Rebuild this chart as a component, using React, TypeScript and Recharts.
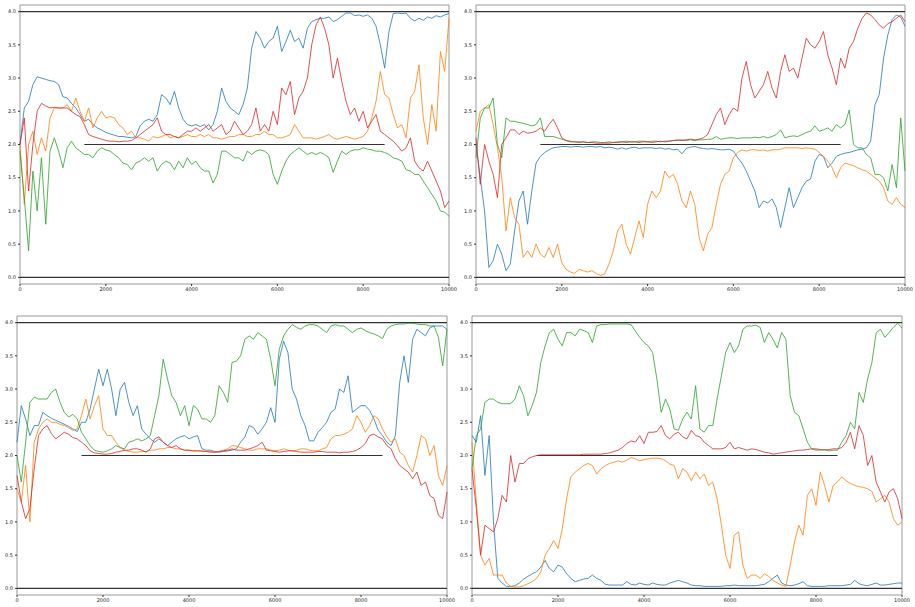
import { LineChart, Line, XAxis, YAxis, ReferenceLine, ReferenceArea } from 'recharts';

// sample positions (every 100 steps)
const steps = [
  0, 100, 200, 300, 400, 500, 600, 700, 800, 900,
  1000, 1100, 1200, 1300, 1400, 1500, 1600, 1700, 1800, 1900,
  2000, 2100, 2200, 2300, 2400, 2500, 2600, 2700, 2800, 2900,
  3000, 3100, 3200, 3300, 3400, 3500, 3600, 3700, 3800, 3900,
  4000, 4100, 4200, 4300, 4400, 4500, 4600, 4700, 4800, 4900,
  5000, 5100, 5200, 5300, 5400, 5500, 5600, 5700, 5800, 5900,
  6000, 6100, 6200, 6300, 6400, 6500, 6600, 6700, 6800, 6900,
  7000, 7100, 7200, 7300, 7400, 7500, 7600, 7700, 7800, 7900,
  8000, 8100, 8200, 8300, 8400, 8500, 8600, 8700, 8800, 8900,
  9000, 9100, 9200, 9300, 9400, 9500, 9600, 9700, 9800, 9900,
  10000,
];

const xTicks = [0, 2000, 4000, 6000, 8000, 10000];
const yTicks = [0, 0.5, 1, 1.5, 2, 2.5, 3, 3.5, 4];

// ---- top left ----
const tlBlue = [
  2.0, 2.55, 2.65, 2.9, 3.02, 3.0, 2.98, 2.96, 2.95, 2.9,
  2.72, 2.7, 2.62, 2.55, 2.45, 2.35, 2.38, 2.3, 2.25, 2.22,
  2.18, 2.16, 2.14, 2.12, 2.12, 2.11, 2.1, 2.12, 2.28, 2.35,
  2.38, 2.35, 2.45, 2.75, 2.7, 2.6, 2.8, 2.55, 2.38, 2.3,
  2.28, 2.3, 2.27, 2.3, 2.22, 2.3, 2.5, 2.85, 2.65, 2.55,
  2.5, 2.45, 2.6, 2.85, 3.45, 3.7, 3.6, 3.45, 3.55, 3.6,
  3.78, 3.4, 3.55, 3.72, 3.55, 3.6, 3.45, 3.75, 3.85, 3.88,
  3.9, 3.9, 3.92, 3.85, 3.88, 3.93, 3.98, 3.98, 3.94, 3.95,
  3.93, 3.95, 3.9, 3.78, 3.5, 3.15, 3.7, 3.97, 3.98, 3.97,
  3.98, 3.9, 3.86, 3.9, 3.87, 3.92, 3.9, 3.94, 3.92, 3.95,
  3.97,
];
const tlOrange = [
  2.0, 1.1, 2.0, 2.2, 1.85, 2.1, 1.9, 2.4, 2.55, 2.55,
  2.55, 2.6, 2.5, 2.7, 2.5, 2.35, 2.55, 2.25, 2.4, 2.5,
  2.4, 2.42, 2.4, 2.3, 2.25, 2.15, 2.2, 2.1, 2.1, 2.08,
  2.05, 2.12, 2.1, 2.12, 2.15, 2.1, 2.12, 2.1, 2.12, 2.15,
  2.12, 2.12, 2.15, 2.12, 2.15, 2.1, 2.1, 2.08, 2.1, 2.12,
  2.12, 2.15, 2.15, 2.12, 2.12, 2.15, 2.15, 2.2, 2.15, 2.15,
  2.1, 2.1, 2.12, 2.15, 2.3, 2.2, 2.1, 2.1, 2.1, 2.08,
  2.1, 2.12, 2.15, 2.1, 2.08, 2.1, 2.12, 2.1, 2.08, 2.1,
  2.12, 2.2, 2.4, 2.65, 3.1, 2.75, 2.7, 2.45, 2.25, 2.3,
  2.1, 2.7, 2.8, 3.2, 2.4, 2.0, 2.6, 2.2, 3.4, 3.1,
  3.9,
];
const tlGreen = [
  1.9, 1.2, 0.4, 1.6, 1.0, 1.8, 0.8, 1.9, 2.1, 1.9,
  1.65, 1.95, 2.05, 1.95, 1.9, 1.85, 1.85, 1.8, 1.9, 1.95,
  1.92, 1.9, 1.85, 1.8, 1.72, 1.7, 1.62, 1.72, 1.75, 1.8,
  1.75, 1.8, 1.6, 1.7, 1.75, 1.72, 1.62, 1.75, 1.65, 1.8,
  1.7, 1.75, 1.65, 1.6, 1.6, 1.42, 1.55, 1.9, 1.9, 1.85,
  1.8, 1.8, 1.75, 1.9, 1.85, 1.9, 1.92, 1.9, 1.85, 1.55,
  1.4, 1.6, 1.75, 1.85, 1.9, 1.95, 1.9, 1.85, 1.88, 1.85,
  1.88, 1.85, 1.8, 1.58, 1.75, 1.9, 1.85, 1.9, 1.92, 1.92,
  1.95, 1.93, 1.92, 1.9, 1.9, 1.88, 1.85, 1.8, 1.78, 1.75,
  1.62, 1.6, 1.55, 1.55, 1.45, 1.35, 1.25, 1.15, 1.0, 0.98,
  0.92,
];
const tlRed = [
  2.0, 2.4, 1.3, 2.0, 2.5, 2.62, 2.58, 2.55, 2.56, 2.55,
  2.55, 2.55, 2.5, 2.45, 2.42, 2.3, 2.15, 2.12, 2.1, 2.08,
  2.06, 2.05, 2.05, 2.04, 2.05, 2.05, 2.06, 2.1, 2.15, 2.2,
  2.25, 2.3, 2.4, 2.2, 2.15, 2.15, 2.12, 2.1, 2.15, 2.2,
  2.2, 2.25, 2.2, 2.25, 2.3, 2.2, 2.25, 2.3, 2.15, 2.2,
  2.35, 2.25, 2.15, 2.2, 2.3, 2.55, 2.2, 2.3, 2.2, 2.5,
  2.3, 2.85, 2.75, 2.95, 2.45, 2.7, 2.8, 3.0, 3.5, 3.8,
  3.92, 3.75, 3.5, 3.0, 3.3, 2.95, 2.65, 2.45, 2.55, 2.35,
  2.5, 2.25, 2.35, 2.45, 2.2, 2.15, 2.1, 2.05, 1.98, 1.9,
  1.95, 2.1, 1.75, 1.65, 1.6, 1.75, 1.6, 1.45, 1.3, 1.05,
  1.15,
];

// ---- top right ----
const trBlue = [
  2.0, 1.5, 1.0, 0.15, 0.25, 0.5, 0.35, 0.1, 0.2, 0.7,
  1.15, 1.3, 0.8, 1.3, 1.72, 1.82, 1.88, 1.92, 1.95, 1.96,
  1.97, 1.97, 1.96, 1.97, 1.97, 1.96, 1.97, 1.97, 1.96, 1.97,
  1.95, 1.96, 1.95, 1.93, 1.95, 1.93, 1.95, 1.96, 1.94, 1.95,
  1.95, 1.95, 1.94, 1.95, 1.93, 1.94, 1.92, 1.93, 1.86, 1.94,
  1.96, 1.97, 1.95, 1.94, 1.93, 1.94, 1.93, 1.92, 1.92, 1.93,
  1.9, 1.8, 1.72, 1.6, 1.45, 1.3, 1.05, 1.15, 1.12, 1.18,
  1.05, 0.75, 1.05, 1.35, 1.05, 1.2, 1.35, 1.45, 1.48, 1.75,
  1.85, 1.82, 1.65, 1.72, 1.82, 1.85, 1.87, 1.88, 1.9, 1.92,
  1.93, 1.95, 2.05, 2.6, 2.75, 3.3, 3.65, 3.88, 3.95, 3.92,
  3.78,
];
const trOrange = [
  2.2, 2.5, 2.55, 2.6, 2.3, 1.95, 1.5, 0.7, 1.2, 0.9,
  0.8, 0.3, 0.4, 0.3, 0.5, 0.35, 0.3, 0.45, 0.3, 0.5,
  0.22, 0.12, 0.08, 0.06, 0.12, 0.1, 0.08, 0.1, 0.06, 0.03,
  0.05, 0.2, 0.4, 0.7, 0.8, 0.5, 0.35, 0.6, 0.85, 0.6,
  1.1, 1.3, 1.2, 1.3, 1.6, 1.5, 1.55, 1.4, 1.15, 1.05,
  1.3, 1.1, 0.6, 0.4, 0.65, 0.75, 1.1, 1.4, 1.55, 1.6,
  1.8, 1.88, 1.92, 1.9, 1.92, 1.92, 1.91, 1.92, 1.9, 1.92,
  1.92, 1.93, 1.95, 1.95, 1.95, 1.95, 1.94, 1.95, 1.94, 1.93,
  1.88, 1.82, 1.75, 1.65, 1.5, 1.65, 1.72, 1.7, 1.68, 1.65,
  1.62, 1.6, 1.55, 1.5, 1.45, 1.35, 1.15, 1.1, 1.2, 1.1,
  1.05,
];
const trGreen = [
  1.8, 2.4, 2.55, 2.55, 2.7, 2.0, 1.8, 2.4, 2.35, 2.35,
  2.33, 2.32, 2.3, 2.28, 2.3, 2.4, 2.12, 2.12, 2.12, 2.1,
  2.08, 2.06, 2.05, 2.04, 2.04, 2.04, 2.03, 2.04, 2.04, 2.03,
  2.03, 2.04, 2.03, 2.04, 2.04, 2.05, 2.04, 2.04, 2.05, 2.05,
  2.04, 2.05, 2.05, 2.04, 2.05, 2.05, 2.06, 2.06, 2.07, 2.06,
  2.07, 2.06, 2.07, 2.07, 2.08, 2.08, 2.12, 2.08, 2.09, 2.1,
  2.1, 2.09, 2.1, 2.1, 2.1, 2.11, 2.1, 2.12, 2.1, 2.12,
  2.15, 2.22, 2.1, 2.12, 2.13, 2.12, 2.15, 2.18, 2.2, 2.28,
  2.2, 2.22, 2.25, 2.2, 2.3, 2.25, 2.3, 2.52, 2.0, 1.95,
  1.95, 1.85, 1.8, 1.55, 1.55, 1.5, 1.3, 1.7, 1.35, 2.4,
  1.6,
];
const trRed = [
  2.1, 1.4, 2.0, 1.75, 1.55, 1.2, 2.0, 2.1, 2.22, 2.22,
  2.15, 2.2, 2.17, 2.18, 2.2, 2.25, 2.2, 2.3, 2.38, 2.25,
  2.1, 2.06, 2.04, 2.04, 2.03, 2.04, 2.03, 2.03, 2.02, 2.02,
  2.02, 2.02, 2.03, 2.03, 2.04, 2.03, 2.04, 2.04, 2.03, 2.04,
  2.04, 2.03, 2.04, 2.05, 2.04, 2.05, 2.06, 2.07, 2.06, 2.07,
  2.08, 2.07, 2.08, 2.1, 2.15, 2.3, 2.45, 2.55, 2.3, 2.45,
  2.55, 2.5, 3.0, 3.25, 2.9, 2.7, 2.8, 2.9, 3.1, 2.85,
  2.7, 3.1, 3.35, 3.1, 3.15, 3.0, 3.3, 3.6, 3.5, 3.45,
  3.55, 3.7, 3.35, 3.15, 2.9, 3.3, 3.15, 3.45, 3.55, 3.75,
  3.9, 3.98, 3.95, 3.88, 3.8, 3.75, 3.82, 3.85, 3.9, 3.95,
  3.85,
];

// ---- bottom left ----
const blBlue = [
  2.2, 2.75, 2.55, 2.3, 2.45, 2.45, 2.65, 2.6, 2.56, 2.53,
  2.5, 2.47, 2.44, 2.4, 2.36, 2.5, 2.5, 2.7, 3.0, 3.3,
  3.05, 3.3, 3.0, 2.6, 3.0, 3.1, 2.8, 2.6, 2.75, 2.4,
  2.32, 2.25, 2.2, 2.25, 2.2, 2.15, 2.2, 2.25, 2.28, 2.3,
  2.25, 2.28, 2.3, 2.1, 2.08, 2.08, 2.06, 2.05, 2.06, 2.07,
  2.08, 2.1, 2.2, 2.28, 2.45, 2.42, 2.32, 2.4, 2.5, 2.72,
  2.5, 3.45, 3.72, 3.55, 3.0, 2.85, 2.6, 2.45, 2.22, 2.22,
  2.35, 2.42, 2.5, 2.65, 2.7, 3.0, 2.95, 3.2, 2.65, 2.7,
  2.75, 2.75, 2.68, 2.55, 2.38, 2.3, 2.2, 2.15, 2.3, 3.1,
  3.5, 3.1, 3.75, 3.9, 3.85, 3.8, 3.92, 3.95, 3.95, 3.95,
  3.9,
];
const blOrange = [
  1.5, 1.3, 1.85, 1.0, 2.2, 2.4, 2.5, 2.55, 2.5, 2.5,
  2.47, 2.45, 2.42, 2.38, 2.4, 2.6, 2.85, 2.55, 2.75, 2.9,
  2.4, 2.3, 2.3, 2.2, 2.12, 2.08, 2.06, 2.05, 2.05, 2.06,
  2.06, 2.08, 2.08, 2.1, 2.1, 2.12, 2.12, 2.1, 2.1, 2.08,
  2.08, 2.07, 2.07, 2.06, 2.06, 2.06, 2.05, 2.06, 2.08, 2.1,
  2.15, 2.14, 2.12, 2.1, 2.08, 2.08, 2.1, 2.1, 2.1, 2.08,
  2.07, 2.08, 2.1, 2.08, 2.07, 2.08, 2.1, 2.1, 2.08, 2.07,
  2.07, 2.1, 2.12, 2.25, 2.3, 2.3, 2.32, 2.35, 2.4, 2.6,
  2.5, 2.35, 2.45, 2.6, 2.55, 2.4, 2.28, 2.2, 2.25, 2.05,
  2.0, 1.85, 1.75, 2.0, 2.3, 2.25, 2.0, 2.15, 1.7, 1.55,
  1.85,
];
const blGreen = [
  2.0, 1.6, 2.2, 2.8, 2.88, 2.85, 2.85, 2.85, 2.95, 3.0,
  2.8, 2.65, 2.58, 2.62, 2.55, 2.35, 2.25, 2.15, 2.08, 2.06,
  2.05, 2.07, 2.1, 2.15, 2.12, 2.1, 2.2, 2.22, 2.25, 2.22,
  2.25, 2.3, 2.6, 2.9, 3.45, 3.15, 2.9, 2.8, 2.6, 2.75,
  2.45, 2.75, 2.7, 2.55, 2.55, 2.5, 2.6, 3.05, 2.95, 2.8,
  3.4, 3.42, 3.5, 3.75, 3.8, 3.75, 3.85, 3.8, 3.75, 3.45,
  3.05, 3.6, 3.8, 3.9, 3.97, 3.93, 3.9, 3.95, 3.97, 3.97,
  3.95, 3.9, 3.85, 3.95, 3.97, 3.95, 3.95, 3.9, 3.85, 3.9,
  3.92, 3.88, 3.85, 3.83, 3.8, 3.76, 3.9, 3.95, 3.97, 3.98,
  3.98, 3.99, 3.99, 3.98, 3.97, 3.97, 3.95, 3.95, 3.78, 3.35,
  3.9,
];
const blRed = [
  1.7, 1.3, 1.05, 1.2, 1.8, 2.3, 2.4, 2.45, 2.33, 2.25,
  2.3, 2.35, 2.32, 2.27, 2.25, 2.2, 2.15, 2.07, 2.04, 2.03,
  2.02, 2.02, 2.03, 2.05, 2.06, 2.08, 2.08, 2.1, 2.1, 2.08,
  2.05, 2.1, 2.25, 2.28, 2.2, 2.15, 2.12, 2.15, 2.1, 2.08,
  2.08, 2.07, 2.07, 2.07, 2.06, 2.05, 2.05, 2.06, 2.07, 2.08,
  2.1, 2.08, 2.08, 2.08, 2.1, 2.12, 2.15, 2.2, 2.08, 2.07,
  2.06, 2.05, 2.06, 2.07, 2.07, 2.06, 2.05, 2.05, 2.05, 2.05,
  2.06, 2.06, 2.05, 2.05, 2.05, 2.04, 2.05, 2.05, 2.06, 2.08,
  2.12, 2.18, 2.3, 2.32, 2.28, 2.25, 2.15, 2.1, 1.95, 1.85,
  1.8, 1.75, 1.65, 1.75, 1.55, 1.6, 1.4, 1.35, 1.1, 1.05,
  1.45,
];

// ---- bottom right ----
const brBlue = [
  2.3, 2.2, 2.6, 1.7, 2.3, 1.0, 0.15, 0.08, 0.03, 0.03,
  0.04, 0.08, 0.14, 0.18, 0.22, 0.25, 0.32, 0.42, 0.3, 0.25,
  0.35, 0.32, 0.22, 0.15, 0.1, 0.12, 0.14, 0.15, 0.2, 0.15,
  0.12, 0.06, 0.05, 0.05, 0.05, 0.05, 0.1, 0.06, 0.05, 0.08,
  0.06, 0.05, 0.08, 0.06, 0.05, 0.05, 0.08, 0.1, 0.12, 0.1,
  0.08, 0.05, 0.04, 0.04, 0.03, 0.03, 0.03, 0.03, 0.03, 0.04,
  0.04, 0.05, 0.04, 0.04, 0.04, 0.04, 0.04, 0.05, 0.06, 0.1,
  0.15, 0.2, 0.08, 0.05, 0.04, 0.05, 0.07, 0.1, 0.04, 0.03,
  0.03, 0.03, 0.03, 0.04, 0.04, 0.04, 0.04, 0.05, 0.06, 0.12,
  0.07, 0.05, 0.04, 0.06, 0.08, 0.05, 0.05, 0.06, 0.07, 0.08,
  0.08,
];
const brOrange = [
  2.2, 1.3, 0.5, 0.35, 0.45, 0.2, 0.2, 0.2, 0.08, 0.03,
  0.02, 0.02, 0.04, 0.07, 0.1, 0.15, 0.25, 0.5, 0.6, 0.72,
  0.6, 0.9, 1.35, 1.68, 1.75, 1.8, 1.85, 1.88, 1.85, 1.72,
  1.8, 1.85, 1.88, 1.9, 1.92, 1.9, 1.93, 1.97, 1.95, 1.92,
  1.94, 1.95, 1.96, 1.96, 1.95, 1.92, 1.87, 1.85, 1.65, 1.8,
  1.75, 1.62, 1.75, 1.65, 1.72, 1.55, 1.6, 1.35, 0.95, 0.5,
  0.3, 0.8, 0.85, 0.35, 0.15, 0.2, 0.2, 0.15, 0.22, 0.18,
  0.12, 0.08, 0.05, 0.03, 0.35, 0.7, 0.95, 0.8, 1.4, 1.5,
  1.25, 1.75, 1.55, 1.3, 1.55, 1.6, 1.68, 1.62, 1.58, 1.55,
  1.53, 1.52, 1.5, 1.46, 1.3, 1.35, 1.4, 1.3, 1.05, 0.95,
  1.0,
];
const brGreen = [
  1.8, 2.3, 2.4, 2.8, 2.85, 2.85, 2.8, 2.78, 2.78, 2.78,
  2.85, 3.05, 2.9, 2.6, 2.75, 2.95, 3.4, 3.65, 3.85, 3.9,
  3.75, 3.65, 3.85, 3.85, 3.8, 3.9, 3.88, 3.85, 3.7, 3.95,
  3.97, 3.97, 3.98, 3.98, 3.98, 3.98, 3.98, 3.97, 3.87, 3.78,
  3.7, 3.65, 3.55, 3.15, 2.65, 2.85, 2.7, 2.4, 2.38, 2.55,
  2.65, 2.55, 3.05, 2.4, 2.35, 2.45, 2.45, 2.85, 3.2, 3.55,
  3.7, 3.55, 3.65, 3.9, 3.95, 3.95, 3.96, 3.93, 3.7, 3.85,
  3.75, 3.62, 3.85, 3.75, 2.9, 2.65, 2.6, 2.4, 2.2, 2.1,
  2.08, 2.08, 2.09, 2.07, 2.08, 2.08, 2.2, 2.3, 2.5, 2.4,
  2.95, 2.8, 3.15, 3.4, 3.85, 3.9, 3.78, 3.85, 3.93, 3.99,
  3.92,
];
const brRed = [
  1.8, 1.2, 0.5, 0.95, 0.9, 0.85, 1.05, 1.4, 1.3, 2.0,
  1.6, 1.88, 1.88, 1.95, 1.98, 2.0, 2.01, 2.01, 2.01, 2.01,
  2.01, 2.01, 2.01, 2.01, 2.01, 2.01, 2.02, 2.02, 2.02, 2.02,
  2.02, 2.03, 2.04, 2.06, 2.08, 2.12, 2.18, 2.22, 2.2, 2.3,
  2.18, 2.35, 2.35, 2.36, 2.45, 2.3, 2.25, 2.32, 2.35, 2.28,
  2.25, 2.38, 2.3, 2.28, 2.2, 2.15, 2.1, 2.1, 2.1, 2.12,
  2.2, 2.1, 2.12, 2.1, 2.08, 2.1, 2.09, 2.07, 2.05, 2.04,
  2.02, 2.03, 2.04, 2.05, 2.06, 2.07, 2.08, 2.08, 2.09, 2.1,
  2.1, 2.09, 2.08, 2.09, 2.1, 2.1, 2.12, 2.2, 2.35, 2.1,
  2.45, 2.3, 1.85, 2.0, 1.6, 1.45, 1.3, 1.45, 1.5, 1.35,
  1.05,
];

const COLORS = { blue: '#1f77b4', orange: '#ff7f0e', green: '#2ca02c', red: '#d62728' };

function buildRows(blue: number[], orange: number[], green: number[], red: number[]) {
  return steps.map((s, i) => ({ step: s, blue: blue[i], orange: orange[i], green: green[i], red: red[i] }));
}

type PanelProps = {
  left: number;
  top: number;
  width: number;
  height: number;
  marginTop: number;
  marginRight: number;
  yWidth: number;
  xHeight: number;
  rows: any[];
};

function Panel({ left, top, width, height, marginTop, marginRight, yWidth, xHeight, rows }: PanelProps) {
  const tickStyle = { fill: '#222', fontSize: 5, fontFamily: 'DejaVu Sans' };
  return (
    <div style={{ position: 'absolute', left, top, width, height }}>
      <LineChart
        width={width}
        height={height}
        data={rows}
        margin={{ top: marginTop, right: marginRight, left: 0, bottom: 0 }}
      >
        <XAxis
          dataKey="step"
          type="number"
          domain={[0, 10000]}
          ticks={xTicks}
          height={xHeight}
          axisLine={false}
          tickLine={{ stroke: '#333' }}
          tickSize={2}
          tickMargin={1}
          tick={tickStyle}
          interval={0}
        />
        <YAxis
          type="number"
          domain={[-0.1, 4.1]}
          ticks={yTicks}
          width={yWidth}
          axisLine={false}
          tickLine={{ stroke: '#333' }}
          tickSize={2}
          tickMargin={2}
          tick={tickStyle}
          tickFormatter={(v) => v.toFixed(1)}
          interval={0}
        />
        <ReferenceLine y={0} stroke="#333" strokeWidth={1.3} />
        <ReferenceLine y={4} stroke="#333" strokeWidth={1.3} />
        <ReferenceLine segment={[{ x: 1500, y: 2 }, { x: 8500, y: 2 }]} stroke="#333" strokeWidth={1.2} />
        <Line dataKey="blue" stroke={COLORS.blue} strokeWidth={0.8} dot={false} isAnimationActive={false} />
        <Line dataKey="orange" stroke={COLORS.orange} strokeWidth={0.8} dot={false} isAnimationActive={false} />
        <Line dataKey="green" stroke={COLORS.green} strokeWidth={0.8} dot={false} isAnimationActive={false} />
        <Line dataKey="red" stroke={COLORS.red} strokeWidth={0.8} dot={false} isAnimationActive={false} />
        <ReferenceArea x1={0} x2={10000} y1={-0.1} y2={4.1} fill="none" stroke="#999" strokeWidth={1} fillOpacity={0} />
      </LineChart>
    </div>
  );
}

export default function App() {
  return (
    <div style={{ position: 'absolute', left: 0, top: 0, width: 915, height: 607, overflow: 'hidden', background: '#fff' }}>
      <Panel left={0} top={0} width={462} height={300} marginTop={5} marginRight={13} yWidth={20} xHeight={16}
        rows={buildRows(tlBlue, tlOrange, tlGreen, tlRed)} />
      <Panel left={0} top={305} width={462} height={302} marginTop={11} marginRight={15} yWidth={17} xHeight={12}
        rows={buildRows(blBlue, blOrange, blGreen, blRed)} />
      <Panel left={455} top={0} width={460} height={300} marginTop={5} marginRight={10} yWidth={21} xHeight={16}
        rows={buildRows(trBlue, trOrange, trGreen, trRed)} />
      <Panel left={455} top={305} width={460} height={302} marginTop={11} marginRight={13} yWidth={17} xHeight={12}
        rows={buildRows(brBlue, brOrange, brGreen, brRed)} />
    </div>
  );
}
